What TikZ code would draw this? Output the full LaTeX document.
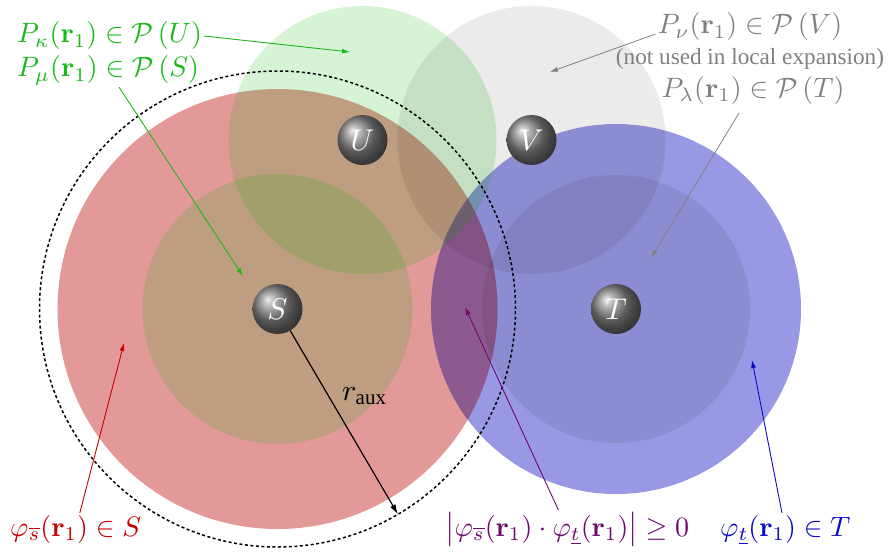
\documentclass[tikz,border=0pt]{standalone}
\usepackage{amsmath}
\usepackage[no-math]{fontspec}
\newfontfamily\timesfont{Liberation Serif}
\usetikzlibrary{arrows.meta}
\newcommand{\bigtxt}[1]{\scalebox{2.8}{#1}}
\newcommand{\atomtxt}[1]{\scalebox{3}{#1}}
\definecolor{redfill}{RGB}{228,153,153}
\definecolor{bluefill}{RGB}{152,152,228}
\definecolor{lensfill}{RGB}{140,90,142}
\definecolor{pgreen}{RGB}{0,178,0}
\definecolor{lgreen}{RGB}{25,185,25}
\definecolor{lred}{RGB}{200,0,0}
\definecolor{lblue}{RGB}{10,10,200}
\definecolor{lpurple}{RGB}{110,10,110}
\definecolor{lgray}{RGB}{128,128,128}
\begin{document}
\begin{tikzpicture}[x=1pt,y=-1pt,
  lbl/.style={inner sep=2pt},
  pnt/.style={-{Latex[length=8pt,width=5pt]}, line width=0.9pt},
  atom/.style={circle, ball color=black!50, minimum size=50pt, inner sep=0pt, text=white},
  greenarea/.style={fill=pgreen, opacity=0.16},
  grayarea/.style={fill=black, opacity=0.08},
  auxcircle/.style={draw=black, line width=1.5pt, dash pattern=on 3pt off 2.5pt}]
\useasboundingbox (0,0) rectangle (896,551);
\coordinate (cS) at (277.5,309);
\coordinate (cU) at (362.5,140);
\coordinate (cV) at (531.5,140);
\coordinate (cT) at (616,309);
% orbitals
\fill[redfill] (cS) circle[radius=220pt];
\fill[bluefill] (cT) circle[radius=185pt];
\begin{scope}
  \clip (cS) circle[radius=220pt];
  \fill[lensfill] (cT) circle[radius=185pt];
\end{scope}
% auxiliary function supports
\path[greenarea] (cS) circle[radius=135pt];
\path[greenarea] (cU) circle[radius=134pt];
\path[grayarea] (cV) circle[radius=134pt];
\path[grayarea] (cT) circle[radius=134pt];
\path[auxcircle] (cS) circle[radius=238pt];
% atoms
\node[atom] (S) at (cS) {\atomtxt{$S$}};
\node[atom] (U) at (cU) {\atomtxt{$U$}};
\node[atom] (V) at (cV) {\atomtxt{$V$}};
\node[atom] (T) at (cT) {\atomtxt{$T$}};
% r_aux
\path (cS) ++(59.6:238) coordinate (rend);
\draw[line width=1.2pt, -{Latex[length=10pt,width=6pt]}] (S) -- (rend);
\node[inner sep=0pt, anchor=base west] (raux) at (342,400) {\atomtxt{$r_{\text{\timesfont aux}}$}};
% labels
\node[lbl, text=lgreen, anchor=base west] (Pk) at (15,43) {\bigtxt{$P_\kappa(\mathbf{r}_1)\in\mathcal{P}\left(U\right)$}};
\node[lbl, text=lgreen, anchor=base west] (Pm) at (15,77) {\bigtxt{$P_\mu(\mathbf{r}_1)\in\mathcal{P}\left(S\right)$}};
\node[lbl, text=lgray, anchor=base] (Pn) at (750,34) {\bigtxt{$P_\nu(\mathbf{r}_1)\in\mathcal{P}\left(V\right)$}};
\node[lbl, text=lgray, anchor=base, font=\timesfont\fontsize{23.2}{28}\selectfont] (note) at (750,64) {(not used in local expansion)};
\node[lbl, text=lgray, anchor=base] (Pl) at (753,97) {\bigtxt{$P_\lambda(\mathbf{r}_1)\in\mathcal{P}\left(T\right)$}};
\node[lbl, text=lred, anchor=base west] (phs) at (8,536) {\bigtxt{$\varphi_{\overline{s}}(\mathbf{r}_1)\in S$}};
\node[lbl, text=lpurple, anchor=base west] (ov) at (443,536) {\bigtxt{$\left|\varphi_{\overline{s}}(\mathbf{r}_1)\cdot\varphi_{\underline{t}}(\mathbf{r}_1)\right|\geq 0$}};
\node[lbl, text=lblue, anchor=base west] (pht) at (718,536) {\bigtxt{$\varphi_{\underline{t}}(\mathbf{r}_1)\in T$}};
% targets
\coordinate (kU) at (350,52);
\coordinate (mS) at (243,276);
\coordinate (nV) at (550,72);
\coordinate (lT) at (651,258);
\coordinate (sS) at (124,343);
\coordinate (ovP) at (465,307);
\coordinate (tT) at (752,360);
% pointers
\draw[pnt, lgreen] (Pk.east) -- (kU);
\draw[pnt, lgreen] (Pm) -- (mS);
\draw[pnt, lgray, line width=0.8pt] (Pn.base west) -- (nV);
\draw[pnt, lgray, line width=0.8pt, shorten <=8pt] (Pl) -- (lT);
\draw[pnt, lred] (phs) -- (sS);
\draw[pnt, lpurple] (ov) -- (ovP);
\draw[pnt, lblue] (pht) -- (tT);
\end{tikzpicture}
\end{document}
